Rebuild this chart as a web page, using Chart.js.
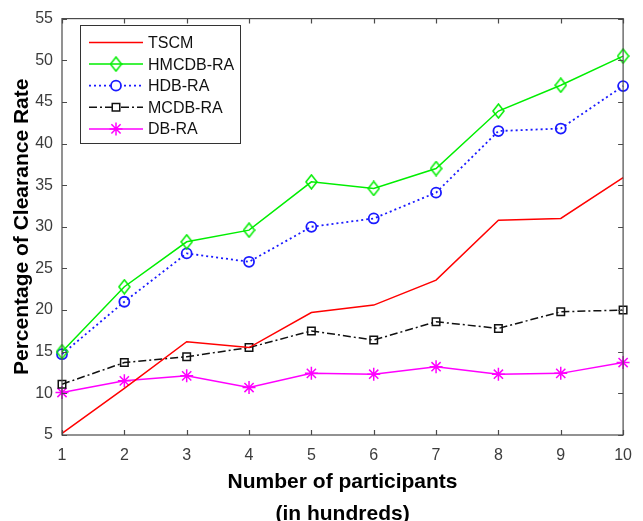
<!DOCTYPE html>
<html>
<head>
<meta charset="utf-8">
<title>Clearance rate</title>
<script src="https://cdn.jsdelivr.net/npm/chart.js@4.4.1/dist/chart.umd.min.js"></script>
<style>
  html, body { margin: 0; padding: 0; background: #fff; }
  #wrap { width: 643px; height: 521px; }
</style>
</head>
<body>
<div id="wrap"><canvas id="myChart" width="643" height="521"></canvas></div>
<script>
// values
const participants = ['1', '2', '3', '4', '5', '6', '7', '8', '9', '10'];
const tscm   = [5.2, 10.6, 16.2, 15.5, 19.7, 20.6, 23.6, 30.8, 31.0, 35.9];
const hmcdbRA = [15.0, 22.8, 28.2, 29.6, 35.4, 34.6, 37.0, 43.9, 47.0, 50.5];
const hdbRA   = [14.7, 21.0, 26.8, 25.8, 30.0, 31.0, 34.1, 41.5, 41.8, 46.9];
const mcdbRA  = [11.1, 13.7, 14.4, 15.5, 17.5, 16.4, 18.6, 17.8, 19.8, 20.0];
const dbRA    = [10.1, 11.5, 12.1, 10.7, 12.4, 12.3, 13.2, 12.3, 12.4, 13.7];
const yMin = 5, yMax = 55, yStep = 5;

const FONT = "'Liberation Sans', Arial, sans-serif";
const AXIS_COLOR = '#4a4a4a';

// matlab style diamond (taller than wide)
function diamondMarker(color) {
  var c = document.createElement('canvas');
  c.width = 13; c.height = 16;
  var g = c.getContext('2d');
  g.strokeStyle = color;
  g.lineWidth = 1.5;
  g.beginPath();
  g.moveTo(6.5, 1);
  g.lineTo(12, 8);
  g.lineTo(6.5, 15);
  g.lineTo(1, 8);
  g.closePath();
  g.stroke();
  return c;
}

// box around the axes with inward ticks on all four sides
const framePlugin = {
  id: 'frame',
  afterDraw(chart) {
    const ctx = chart.ctx;
    const a = chart.chartArea;
    const xs = chart.scales.x, ys = chart.scales.y;
    const len = 5;
    ctx.save();
    ctx.strokeStyle = AXIS_COLOR;
    ctx.lineWidth = 1.2;
    ctx.strokeRect(a.left, a.top, a.right - a.left, a.bottom - a.top);
    ctx.beginPath();
    for (var i = 0; i < xs.ticks.length; i++) {
      var px = Math.round(xs.getPixelForTick(i)) + 0.5;
      ctx.moveTo(px, a.bottom); ctx.lineTo(px, a.bottom - len);
      ctx.moveTo(px, a.top); ctx.lineTo(px, a.top + len);
    }
    for (var j = 0; j < ys.ticks.length; j++) {
      var py = Math.round(ys.getPixelForTick(j)) + 0.5;
      ctx.moveTo(a.left, py); ctx.lineTo(a.left + len, py);
      ctx.moveTo(a.right, py); ctx.lineTo(a.right - len, py);
    }
    ctx.stroke();
    ctx.restore();
  }
};

// legend box in the upper left corner of the axes
const legendPlugin = {
  id: 'boxLegend',
  afterDraw(chart) {
    const ctx = chart.ctx;
    const box = { x: 80.5, y: 25.5, w: 160, h: 118 };
    ctx.save();
    ctx.fillStyle = '#fff';
    ctx.fillRect(box.x, box.y, box.w, box.h);
    ctx.strokeStyle = '#333';
    ctx.lineWidth = 1;
    ctx.strokeRect(box.x, box.y, box.w, box.h);
    chart.data.datasets.forEach(function (ds, i) {
      var y = 42.5 + i * 21.6;
      var x0 = 89, x1 = 143, xm = 116;
      ctx.strokeStyle = ds.borderColor;
      ctx.lineWidth = ds.borderWidth;
      ctx.setLineDash(ds.borderDash || []);
      ctx.beginPath();
      ctx.moveTo(x0, y); ctx.lineTo(x1, y);
      ctx.stroke();
      ctx.setLineDash([]);
      if (ds.pointRadius > 0) {
        if (ds.pointStyle instanceof HTMLCanvasElement) {
          ctx.drawImage(ds.pointStyle, xm - ds.pointStyle.width / 2, y - ds.pointStyle.height / 2);
        } else {
          ctx.fillStyle = '#fff';
          ctx.lineWidth = ds.pointBorderWidth;
          Chart.helpers.drawPoint(ctx, {
            pointStyle: ds.pointStyle, radius: ds.pointRadius,
            rotation: 0, borderWidth: ds.pointBorderWidth
          }, xm, y);
        }
      }
      ctx.fillStyle = '#111';
      ctx.font = '16px ' + FONT;
      ctx.textAlign = 'left';
      ctx.textBaseline = 'middle';
      ctx.fillText(ds.label, 148, y + 1);
    });
    ctx.restore();
  }
};

var ctx = document.getElementById('myChart').getContext('2d');
window.myLineChart = new Chart(ctx, {
  type: 'line',
  data: {
    labels: participants,
    datasets: [
      {
        label: 'TSCM', data: tscm,
        borderColor: '#ff0000', borderWidth: 1.5,
        pointRadius: 0, pointHoverRadius: 0
      },
      {
        label: 'HMCDB-RA', data: hmcdbRA,
        borderColor: '#00ee00', borderWidth: 1.5,
        pointStyle: diamondMarker('#00ee00'), pointRadius: 6,
        pointBorderColor: '#00ee00', pointBackgroundColor: 'rgba(0,0,0,0)'
      },
      {
        label: 'HDB-RA', data: hdbRA,
        borderColor: '#1a1aff', borderWidth: 1.8, borderDash: [2, 3],
        pointStyle: 'circle', pointRadius: 5, pointBorderWidth: 1.8,
        pointBorderColor: '#1a1aff', pointBackgroundColor: 'rgba(0,0,0,0)'
      },
      {
        label: 'MCDB-RA', data: mcdbRA,
        borderColor: '#111', borderWidth: 1.5, borderDash: [8, 3, 2, 3],
        pointStyle: 'rect', pointRadius: 5.3, pointBorderWidth: 1.5,
        pointBorderColor: '#111', pointBackgroundColor: 'rgba(0,0,0,0)'
      },
      {
        label: 'DB-RA', data: dbRA,
        borderColor: '#ff00ff', borderWidth: 1.5,
        pointStyle: 'star', pointRadius: 6.5, pointBorderWidth: 1.5,
        pointBorderColor: '#ff00ff', pointBackgroundColor: 'rgba(0,0,0,0)'
      }
    ]
  },
  options: {
    responsive: false,
    animation: false,
    devicePixelRatio: 1,
    layout: { autoPadding: false, padding: { top: 10, right: 9, left: 0, bottom: 0 } },
    elements: { line: { tension: 0 } },
    datasets: { line: { clip: false } },
    plugins: {
      legend: { display: false },
      tooltip: { enabled: false }
    },
    scales: {
      x: {
        type: 'category',
        offset: false,
        grid: { display: false, drawTicks: false },
        border: { display: false },
        ticks: {
          color: '#3c3c3c', padding: 11, maxRotation: 0, autoSkip: false,
          font: { family: FONT, size: 16, lineHeight: 1.2 }
        },
        title: {
          display: true,
          text: ['Number of participants', '(in hundreds)'],
          color: '#000',
          font: { family: FONT, size: 21, weight: 'bold', lineHeight: 1.52 },
          padding: { top: 0, bottom: -9 }
        },
        afterFit(scale) { scale.height = 86; }
      },
      y: {
        min: yMin, max: yMax,
        grid: { display: false, drawTicks: false },
        border: { display: false },
        ticks: {
          stepSize: yStep, color: '#3c3c3c', padding: 9,
          font: { family: FONT, size: 16, lineHeight: 1.2 }
        },
        title: {
          display: true,
          text: 'Percentage of Clearance Rate',
          color: '#000',
          font: { family: FONT, size: 21, weight: 'bold', lineHeight: 1.2 },
          padding: { top: 9.4, bottom: 0 }
        },
        afterFit(scale) { scale.width = 62; }
      }
    }
  },
  plugins: [framePlugin, legendPlugin]
});
</script>
</body>
</html>
